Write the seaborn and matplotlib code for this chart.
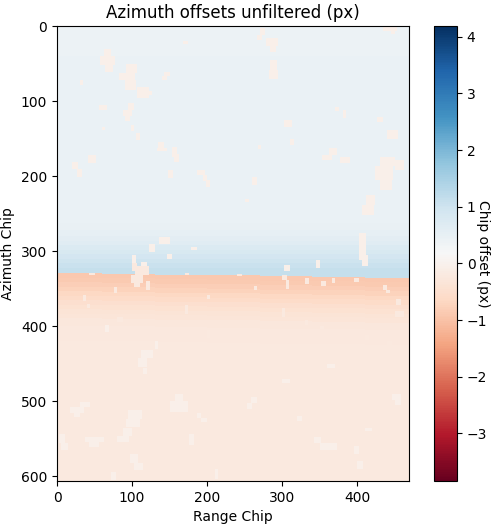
import numpy as np
import matplotlib
matplotlib.use("Agg")
import matplotlib.pyplot as plt
import seaborn as sns

n_rows = 606
n_cols = 469
vmin = -3.84
vmax = 4.19
cbar_ticks = [-3, -2, -1, 0, 1, 2, 3, 4]
x_ticks = [0, 100, 200, 300, 400]
y_ticks = [0, 100, 200, 300, 400, 500, 600]

# Azimuth bands above the break: first row of each band and its offset
upper_rows = [0, 40, 262, 272, 280, 286, 292, 298, 304, 310, 316, 322]
upper_vals = [0.40, 0.44, 0.48, 0.54, 0.60, 0.67, 0.75, 0.83, 0.91, 1.00, 1.08, 1.14]
# Bands below the break: rows after the break and offset
lower_rows = [0, 6, 12, 18, 24, 30, 36, 42, 48, 54, 60, 70, 90]
lower_vals = [-0.92, -0.88, -0.82, -0.75, -0.67, -0.59, -0.51, -0.44, -0.38, -0.33, -0.29, -0.26, -0.23]
# Position of the break across range
break_cols = [0, 60, 130, 200, 270, 340, 410]
break_rows = [329, 330, 331, 332, 333, 334, 335]

# Patches: row0, row1, col0, col1
upper_patches = [
    (30, 40, 62, 72), (40, 52, 57, 77), (52, 61, 64, 74),
    (50, 62, 92, 107), (62, 72, 82, 104), (72, 85, 90, 105), (81, 96, 107, 122), (86, 92, 122, 126),
    (103, 112, 94, 102), (112, 120, 88, 100), (120, 127, 90, 97), (132, 140, 98, 103),
    (16, 26, 279, 294), (26, 34, 284, 292), (3, 12, 270, 277), (12, 19, 266, 273),
    (45, 58, 284, 293), (58, 71, 282, 295), (1, 6, 435, 453), (6, 10, 445, 450),
    (61, 67, 142, 151), (67, 72, 140, 147), (154, 162, 135, 142), (162, 167, 133, 146),
    (161, 175, 153, 160), (170, 181, 156, 162), (192, 203, 148, 154), (172, 183, 41, 52),
    (181, 190, 20, 28), (190, 201, 26, 33), (174, 186, 430, 450), (186, 205, 424, 448),
    (205, 218, 430, 446), (179, 192, 450, 462), (225, 238, 412, 424), (238, 252, 406, 422),
    (163, 172, 362, 373), (172, 179, 353, 366), (139, 150, 440, 455), (121, 128, 426, 434),
    (201, 212, 260, 267), (290, 301, 122, 131), (281, 290, 136, 151), (303, 310, 146, 153),
    (276, 292, 402, 412), (292, 312, 403, 412), (305, 319, 406, 415), (125, 134, 302, 313),
    (150, 159, 310, 316), (112, 123, 381, 385), (105, 112, 56, 66), (174, 183, 377, 390),
    (192, 198, 186, 197), (198, 206, 194, 200), (205, 214, 199, 204), (143, 152, 105, 110),
    (305, 318, 100, 105), (314, 328, 112, 120), (312, 322, 345, 351), (318, 326, 303, 310),
    (72, 78, 30, 34), (20, 24, 168, 174), (135, 139, 60, 64), (230, 234, 250, 256),
    (294, 298, 178, 186), (158, 164, 268, 272), (108, 113, 370, 376),
]
boundary_patches = [
    (316, 326, 100, 106), (320, 332, 104, 122), (332, 342, 98, 114), (342, 347, 102, 110),
    (340, 352, 118, 124), (348, 356, 76, 80), (358, 366, 34, 38), (329, 332, 42, 50),
    (329, 332, 170, 176), (330, 333, 240, 246), (332, 338, 300, 306), (338, 350, 305, 309),
    (336, 343, 330, 336), (340, 346, 352, 358), (335, 342, 366, 371), (336, 341, 396, 402),
    (345, 352, 434, 440), (352, 356, 438, 444), (380, 388, 450, 462), (364, 372, 452, 458),
    (372, 384, 170, 174), (358, 364, 200, 204), (346, 351, 262, 266), (388, 394, 80, 88),
    (376, 388, 300, 304), (392, 398, 330, 334), (370, 376, 40, 44), (405, 415, 200, 204),
    (400, 404, 350, 356), (412, 418, 410, 416), (420, 426, 440, 446),
]
lower_patches = [
    (432, 442, 112, 128), (442, 454, 108, 120), (490, 500, 157, 168), (500, 514, 151, 175),
    (512, 524, 94, 113), (524, 534, 92, 110), (536, 546, 88, 100), (546, 554, 80, 96),
    (547, 554, 37, 62), (554, 561, 42, 56), (570, 582, 97, 108), (582, 592, 102, 115),
    (494, 502, 258, 266), (502, 510, 253, 260), (490, 498, 446, 458), (498, 505, 450, 459),
    (543, 555, 2, 10), (555, 565, 5, 15), (501, 508, 30, 44), (508, 515, 17, 36), (515, 521, 22, 30),
    (547, 556, 342, 352), (556, 565, 350, 373), (543, 558, 176, 182), (594, 605, 72, 79),
    (515, 522, 186, 192), (522, 528, 192, 200), (455, 464, 114, 120), (398, 408, 64, 69),
    (420, 430, 131, 135), (590, 604, 210, 214), (560, 570, 396, 402), (580, 590, 400, 408),
    (470, 476, 300, 310), (520, 526, 320, 326), (535, 540, 410, 420), (450, 456, 360, 370),
]
upper_patch_val = -0.07
boundary_patch_val = -0.22
lower_patch_val = -0.05

data = np.zeros((n_rows, n_cols))
for i, r0 in enumerate(upper_rows):
    data[r0:, :] = upper_vals[i]
for j, c0 in enumerate(break_cols):
    c1 = break_cols[j + 1] if j + 1 < len(break_cols) else n_cols
    for i, dr in enumerate(lower_rows):
        data[break_rows[j] + dr:, c0:c1] = lower_vals[i]
for r0, r1, c0, c1 in upper_patches:
    data[r0:r1, c0:c1] = upper_patch_val
for r0, r1, c0, c1 in boundary_patches:
    data[r0:r1, c0:c1] = boundary_patch_val
for r0, r1, c0, c1 in lower_patches:
    data[r0:r1, c0:c1] = lower_patch_val

fig = plt.figure(figsize=(5, 5.3), dpi=100)
ax = fig.add_axes([57 / 500, 1 - 481 / 530, 352 / 500, 455 / 530])
cax = fig.add_axes([434 / 500, 1 - 481 / 530, 23 / 500, 455 / 530])
sns.heatmap(data, ax=ax, cbar_ax=cax, cmap="RdBu", vmin=vmin, vmax=vmax,
            xticklabels=False, yticklabels=False, rasterized=True)

ax.set_xticks(x_ticks)
ax.set_xticklabels([str(t) for t in x_ticks], rotation=0)
ax.set_yticks(y_ticks)
ax.set_yticklabels([str(t) for t in y_ticks], rotation=0)
ax.tick_params(left=True, bottom=True, length=3.5, width=0.8)
ax.set_xlim(0, n_cols)
ax.set_ylim(n_rows, 0)
for s in ax.spines.values():
    s.set_visible(True)
    s.set_linewidth(0.8)
    s.set_color("black")
ax.set_title("Azimuth offsets unfiltered (px)", fontsize=12)
ax.set_xlabel("Range Chip", fontsize=10)
ax.set_ylabel("Azimuth Chip", fontsize=10)

cbar = ax.collections[0].colorbar
cbar.set_ticks(cbar_ticks)
cbar.set_ticklabels([str(t).replace("-", "\u2212") for t in cbar_ticks])
cbar.ax.tick_params(length=3.5, width=0.8, labelsize=10)
cbar.outline.set_visible(True)
cbar.outline.set_linewidth(0.8)
cbar.outline.set_edgecolor("black")
cbar.set_label("Chip offset (px)", rotation=270, fontsize=10, labelpad=2)

fig.savefig("out.png", dpi=100)
